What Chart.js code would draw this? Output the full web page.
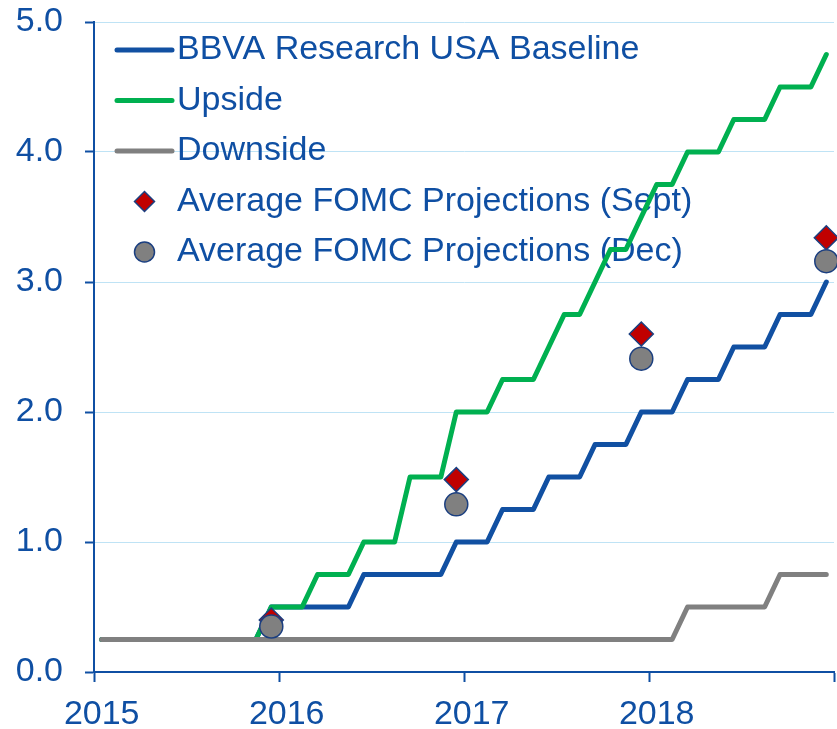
<!DOCTYPE html>
<html>
<head>
<meta charset="utf-8">
<script src="https://cdn.jsdelivr.net/npm/chart.js@4.4.1/dist/chart.umd.min.js"></script>
<style>
  html, body { margin: 0; padding: 0; background: #fff; }
  #wrap { width: 837px; height: 729px; }
</style>
</head>
<body>
<div id="wrap"><canvas id="chart" width="837" height="729"></canvas></div>
<script>
// Fed funds rate scenarios, monthly Jan 2015 - Dec 2018

const years = ['2015', '2016', '2017', '2018'];
const months = ['Jan', 'Feb', 'Mar', 'Apr', 'May', 'Jun', 'Jul', 'Aug', 'Sep', 'Oct', 'Nov', 'Dec'];
const categories = years.flatMap(y => months.map(m => m + ' ' + y));

const baseline = [
  0.25, 0.25, 0.25, 0.25, 0.25, 0.25, 0.25, 0.25, 0.25, 0.25, 0.25, 0.5,
  0.5, 0.5, 0.5, 0.5, 0.5, 0.75, 0.75, 0.75, 0.75, 0.75, 0.75, 1.0,
  1.0, 1.0, 1.25, 1.25, 1.25, 1.5, 1.5, 1.5, 1.75, 1.75, 1.75, 2.0,
  2.0, 2.0, 2.25, 2.25, 2.25, 2.5, 2.5, 2.5, 2.75, 2.75, 2.75, 3.0,
];
const upside = [
  0.25, 0.25, 0.25, 0.25, 0.25, 0.25, 0.25, 0.25, 0.25, 0.25, 0.25, 0.5,
  0.5, 0.5, 0.75, 0.75, 0.75, 1.0, 1.0, 1.0, 1.5, 1.5, 1.5, 2.0,
  2.0, 2.0, 2.25, 2.25, 2.25, 2.5, 2.75, 2.75, 3.0, 3.25, 3.25, 3.5,
  3.75, 3.75, 4.0, 4.0, 4.0, 4.25, 4.25, 4.25, 4.5, 4.5, 4.5, 4.75,
];
const downside = [
  0.25, 0.25, 0.25, 0.25, 0.25, 0.25, 0.25, 0.25, 0.25, 0.25, 0.25, 0.25,
  0.25, 0.25, 0.25, 0.25, 0.25, 0.25, 0.25, 0.25, 0.25, 0.25, 0.25, 0.25,
  0.25, 0.25, 0.25, 0.25, 0.25, 0.25, 0.25, 0.25, 0.25, 0.25, 0.25, 0.25,
  0.25, 0.25, 0.5, 0.5, 0.5, 0.5, 0.5, 0.5, 0.75, 0.75, 0.75, 0.75,
];
const fomcMonths = ['Dec 2015', 'Dec 2016', 'Dec 2017', 'Dec 2018'];
const fomcSept = [0.40, 1.48, 2.60, 3.34];
const fomcDec = [0.35, 1.29, 2.41, 3.16];
const yTicks = [0, 1, 2, 3, 4, 5];

const BLUE_TEXT = '#0F4FA3';
const FONT = { family: '"Liberation Sans", Arial, sans-serif', size: 34 };

// legend sits inside the plot, under the lines
const insideLegend = {
  id: 'insideLegend',
  beforeDatasetsDraw(chart) {
    const ctx = chart.ctx;
    const x0 = 117, x1 = 172, tx = 177, top = 50, step = 50.5;
    ctx.save();
    ctx.font = FONT.size + 'px ' + FONT.family;
    ctx.textBaseline = 'middle';
    ctx.fillStyle = BLUE_TEXT;
    chart.data.datasets.forEach((ds, i) => {
      const y = top + i * step;
      if (ds.showLine === false) {
        ctx.fillStyle = ds.pointBackgroundColor;
        ctx.strokeStyle = ds.pointBorderColor;
        ctx.lineWidth = 1.5;
        Chart.helpers.drawPoint(ctx, { pointStyle: ds.pointStyle, radius: 10, rotation: 0, borderWidth: 1.5 }, (x0 + x1) / 2, y);
      } else {
        ctx.beginPath();
        ctx.strokeStyle = ds.borderColor;
        ctx.lineWidth = 5;
        ctx.lineCap = 'round';
        ctx.moveTo(x0, y);
        ctx.lineTo(x1, y);
        ctx.stroke();
      }
      ctx.fillStyle = BLUE_TEXT;
      ctx.fillText(ds.label, tx, y);
    });
    ctx.restore();
  },
};

const lineStyle = {
  borderWidth: 5,
  pointRadius: 0,
  pointHoverRadius: 0,
  tension: 0,
  borderCapStyle: 'round',
  borderJoinStyle: 'round',
};

new Chart(document.getElementById('chart'), {
  type: 'line',
  data: {
    labels: categories,
    datasets: [
      { label: 'BBVA Research USA Baseline', data: baseline, borderColor: '#1150A2', order: 4, ...lineStyle },
      { label: 'Upside', data: upside, borderColor: '#00B050', order: 3, ...lineStyle },
      { label: 'Downside', data: downside, borderColor: '#808080', order: 2, ...lineStyle },
      {
        label: 'Average FOMC Projections (Sept)',
        data: fomcMonths.map((m, i) => ({ x: m, y: fomcSept[i] })),
        showLine: false,
        pointStyle: 'rectRot',
        pointRadius: 12,
        pointBackgroundColor: '#C00000',
        pointBorderColor: '#1B3F80',
        pointBorderWidth: 1.5,
        order: 1,
      },
      {
        label: 'Average FOMC Projections (Dec)',
        data: fomcMonths.map((m, i) => ({ x: m, y: fomcDec[i] })),
        showLine: false,
        pointStyle: 'circle',
        pointRadius: 11.5,
        pointBackgroundColor: '#808080',
        pointBorderColor: '#1B3F80',
        pointBorderWidth: 1.5,
        order: 0,
      },
    ],
  },
  options: {
    responsive: false,
    animation: false,
    events: [],
    layout: { autoPadding: false, padding: { top: 22, right: 3, bottom: 0, left: 0 } },
    plugins: {
      legend: { display: false },
      tooltip: { enabled: false },
    },
    scales: {
      x: {
        type: 'category',
        offset: true,
        afterFit(scale) {
          scale.height = 57;
          scale.paddingLeft = 0;
          scale.paddingRight = 0;
        },
        border: { color: BLUE_TEXT, width: 2 },
        grid: {
          offset: true,
          drawOnChartArea: false,
          tickLength: 10,
          tickWidth: 2,
          tickColor: ctx => (ctx.index === undefined || ctx.index % 12 === 0) ? BLUE_TEXT : 'rgba(0,0,0,0)',
        },
        ticks: {
          autoSkip: false,
          maxRotation: 0,
          padding: 12,
          color: BLUE_TEXT,
          font: FONT,
          callback: (v, i) => (i % 12 === 0 ? years[i / 12] : ''),
        },
      },
      y: {
        min: 0,
        max: 5,
        afterFit(scale) {
          scale.width = 94;
          scale.paddingTop = 0;
          scale.paddingBottom = 0;
        },
        afterBuildTicks(scale) { scale.ticks = yTicks.map(v => ({ value: v })); },
        border: { color: BLUE_TEXT, width: 2 },
        grid: {
          color: '#BFE3F5',
          lineWidth: 1,
          tickLength: 9,
          tickWidth: 2,
          tickColor: BLUE_TEXT,
        },
        ticks: {
          padding: 22,
          color: BLUE_TEXT,
          font: FONT,
          callback: v => v.toFixed(1),
        },
      },
    },
  },
  plugins: [insideLegend],
});
</script>
</body>
</html>
